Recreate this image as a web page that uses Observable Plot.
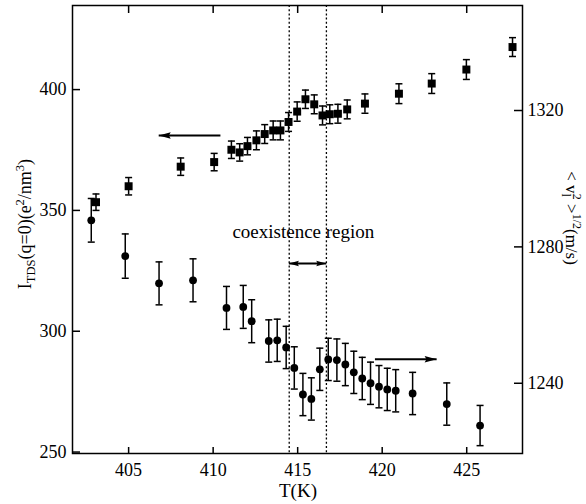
<!DOCTYPE html>
<html><head><meta charset="utf-8">
<script src="https://cdn.jsdelivr.net/npm/d3@7"></script>
<script src="https://cdn.jsdelivr.net/npm/@observablehq/plot@0.6"></script>
<style>
html,body{margin:0;padding:0;background:#fff;}
#chart svg{display:block;}
</style>
</head><body><div id="chart"></div>
<script>
// Squares: I_TDS (left axis)
const sqT = [403.07,405.0,408.08,410.06,411.08,411.57,412.03,412.56,413.05,413.55,413.98,414.46,414.97,415.46,415.98,416.47,416.90,417.38,417.93,418.98,420.99,422.93,424.98,427.71];
const sqI = [353.4,360.0,368.1,370.0,375.1,374.0,376.6,379.0,381.6,383.1,383.1,386.6,390.9,396.0,393.9,389.3,389.8,390.0,391.8,394.2,398.3,402.5,408.3,417.6];
const sqErr = [3.4,3.6,3.6,3.6,3.6,3.6,3.6,3.9,3.9,3.9,3.9,3.9,4.0,3.8,3.9,3.9,3.9,3.9,3.9,4.0,4.1,4.1,4.1,3.9];
// Circles: <v_l^2>^(1/2) (right axis)
const ciT = [402.79,404.80,406.80,408.81,410.79,411.78,412.28,413.29,413.79,414.32,414.80,415.31,415.81,416.31,416.81,417.32,417.82,418.32,418.82,419.31,419.81,420.30,420.80,421.80,423.82,425.79];
const ciV = [1287.8,1277.3,1269.3,1270.2,1262.1,1262.4,1258.2,1252.4,1252.6,1250.5,1244.5,1236.7,1235.4,1244.1,1247.0,1246.8,1245.5,1243.2,1241.4,1240.0,1239.0,1238.2,1237.8,1237.0,1233.9,1227.6];
const ciErr = [6.4,6.5,6.3,6.3,6.3,6.3,6.3,6.2,6.2,6.2,6.2,6.2,6.2,6.2,6.2,6.2,6.2,6.2,6.2,6.2,6.2,6.2,6.2,6.2,6.2,5.9];
// Ticks
const xTicks = [405,410,415,420,425];
const yTicks = [250,300,350,400];
const vTicks = [1240,1280,1320];
// Coexistence region bounds
const coexBounds = [414.5, 416.7];
// Annotations (data units)
const annoText = ["coexistence region"];
const annoTextT = [411.14];
const annoTextI = [341.0];
const arrowFromT = [410.43, 419.57, 414.48];
const arrowToT = [406.78, 423.22, 416.69];
const arrowI = [381.0, 288.4, 328.0];
const arrowDouble = [false, false, true];

const xDomain = [401.68, 428.30];
const yDomain = [249.4, 434.8];
const vDomain = [1219.4, 1350.8];
const toLeft = v => yDomain[0] + (v - vDomain[0]) * (yDomain[1]-yDomain[0])/(vDomain[1]-vDomain[0]);
const toRight = y => vDomain[0] + (y - yDomain[0]) * (vDomain[1]-vDomain[0])/(yDomain[1]-yDomain[0]);

const squares = sqT.map((t,i)=>({T:t, y:sqI[i], e:sqErr[i]}));
const circles = ciT.map((t,i)=>({T:t, y:toLeft(ciV[i]), lo:toLeft(ciV[i]-ciErr[i]), hi:toLeft(ciV[i]+ciErr[i])}));
const arrows = arrowFromT.map((t,i)=>({x1:t, x2:arrowToT[i], y:arrowI[i], dbl:arrowDouble[i]}));
const heads = [];
arrows.forEach(a=>{
  const dir = a.x2 > a.x1 ? 1 : -1;
  heads.push({x:a.x2, y:a.y, dir, dbl:a.dbl});
  if (a.dbl) heads.push({x:a.x1, y:a.y, dir:-dir, dbl:true});
});

const capSymbol = {draw(ctx, size){ const r = Math.sqrt(size/Math.PI); ctx.moveTo(-r,0); ctx.lineTo(r,0);} };
const headR = {draw(ctx, size){ const s = Math.sqrt(size/Math.PI); ctx.moveTo(0,0); ctx.lineTo(-2*s,-0.55*s); ctx.lineTo(-1.7*s,0); ctx.lineTo(-2*s,0.55*s); ctx.closePath(); } };
const headL = {draw(ctx, size){ const s = Math.sqrt(size/Math.PI); ctx.moveTo(0,0); ctx.lineTo(2*s,-0.55*s); ctx.lineTo(1.7*s,0); ctx.lineTo(2*s,0.55*s); ctx.closePath(); } };

const W = 586, H = 504, mL = 72, mR = 64, mT = 5, mB = 51;
const fw = W - mL - mR, fh = H - mT - mB;

const headMark = (dir, dbl) => Plot.dot(heads.filter(h=>h.dir===dir && h.dbl===dbl),
  {x: "x", y: "y", r: dbl ? 5 : 6, symbol: dir > 0 ? headR : headL, fill: "black", stroke: "none"});

const chart = Plot.plot({
  width: W, height: H,
  marginLeft: mL, marginRight: mR, marginTop: mT, marginBottom: mB,
  style: {fontFamily: "'Liberation Serif', 'Times New Roman', serif", fontSize: "18px", background: "white", color: "black"},
  x: {domain: xDomain},
  y: {domain: yDomain},
  marks: [
    Plot.ruleX(coexBounds, {x: d=>d, stroke: "black", strokeWidth: 1.3, strokeDasharray: "2,2.2"}),
    // error bars squares
    Plot.ruleX(squares, {x: "T", y1: d=>d.y-d.e, y2: d=>d.y+d.e, stroke: "black", strokeWidth: 1.5}),
    Plot.dot(squares, {x: "T", y: d=>d.y-d.e, symbol: capSymbol, r: 3.5, stroke: "black", strokeWidth: 1.5, fill: "none"}),
    Plot.dot(squares, {x: "T", y: d=>d.y+d.e, symbol: capSymbol, r: 3.5, stroke: "black", strokeWidth: 1.5, fill: "none"}),
    Plot.dot(squares, {x: "T", y: "y", symbol: "square", r: 4.5, fill: "black", stroke: "none"}),
    // error bars circles
    Plot.ruleX(circles, {x: "T", y1: "lo", y2: "hi", stroke: "black", strokeWidth: 1.5}),
    Plot.dot(circles, {x: "T", y: "lo", symbol: capSymbol, r: 3.5, stroke: "black", strokeWidth: 1.5, fill: "none"}),
    Plot.dot(circles, {x: "T", y: "hi", symbol: capSymbol, r: 3.5, stroke: "black", strokeWidth: 1.5, fill: "none"}),
    Plot.dot(circles, {x: "T", y: "y", r: 3.9, fill: "black", stroke: "none"}),
    // arrows
    Plot.link(arrows, {x1: "x1", x2: "x2", y1: "y", y2: "y", stroke: "black", strokeWidth: 2}),
    headMark(1, false), headMark(-1, false), headMark(1, true), headMark(-1, true),
    Plot.text(annoText, {x: (d,i)=>annoTextT[i], y: (d,i)=>annoTextI[i], text: d=>d, textAnchor: "start", fontSize: 19, fill: "black"}),
    // inward ticks
    Plot.tickX(xTicks, {x: d=>d, insetTop: fh - 6, stroke: "black", strokeWidth: 1.5}),
    Plot.tickX(xTicks, {x: d=>d, insetBottom: fh - 8, stroke: "black", strokeWidth: 1.5}),
    Plot.tickY(yTicks, {y: d=>d, insetRight: fw - 8, stroke: "black", strokeWidth: 1.5}),
    Plot.tickY(vTicks.map(toLeft), {y: d=>d, insetLeft: fw - 8, stroke: "black", strokeWidth: 1.5}),
    // axes labels
    Plot.axisX(xTicks, {tickSize: 0, tickPadding: 10, fontSize: 18, label: null}),
    Plot.axisY(yTicks, {anchor: "left", tickSize: 0, tickPadding: 6, fontSize: 18, label: null}),
    Plot.axisY(vTicks.map(toLeft), {anchor: "right", tickSize: 0, tickPadding: 5, fontSize: 18, label: null, tickFormat: d => String(Math.round(toRight(d)))}),
    Plot.frame({stroke: "black", strokeWidth: 1.5})
  ]
});
document.getElementById("chart").appendChild(chart);

const svg = d3.select(chart);
const ff = "'Liberation Serif', 'Times New Roman', serif";
// x label
svg.append("text").attr("x", 298).attr("y", 497).attr("text-anchor","middle")
  .attr("font-family", ff).attr("font-size", 19).attr("fill","black").text("T(K)");
// left label
const lt = svg.append("text").attr("transform","translate(31,224) rotate(-90)").attr("text-anchor","middle")
  .attr("font-family", ff).attr("font-size", 18).attr("fill","black");
lt.append("tspan").text("I");
lt.append("tspan").attr("font-size",12.5).attr("dy",4).text("TDS");
lt.append("tspan").attr("dy",-4).text("(q=0)(e");
lt.append("tspan").attr("font-size",12.5).attr("dy",-7).text("2");
lt.append("tspan").attr("dy",7).text("/nm");
lt.append("tspan").attr("font-size",12.5).attr("dy",-7).text("3");
lt.append("tspan").attr("dy",7).text(")");
// right label
const rt = svg.append("text").attr("transform","translate(566,218) rotate(90)").attr("text-anchor","middle")
  .attr("font-family", ff).attr("font-size", 17).attr("fill","black");
rt.append("tspan").text("< v");
rt.append("tspan").attr("font-size",12).attr("dy",4).text("l");
rt.append("tspan").attr("font-size",12).attr("dx",-3).attr("dy",-11).text("2");
rt.append("tspan").attr("dy",7).text(" >");
rt.append("tspan").attr("font-size",12).attr("dy",-7).text("1/2");
rt.append("tspan").attr("dy",7).text("(m/s)");
</script>
</body></html>
